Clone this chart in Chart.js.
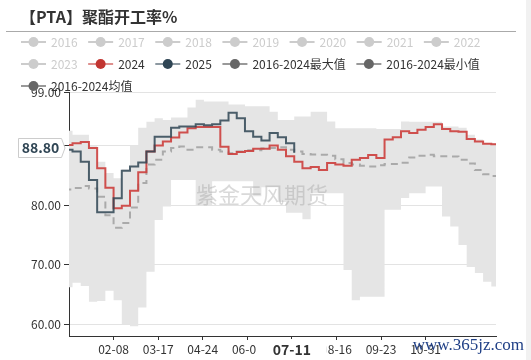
<!DOCTYPE html>
<html>
<head>
<meta charset="utf-8">
<script src="https://cdn.jsdelivr.net/npm/chart.js@4"></script>
<style>
html,body{margin:0;padding:0;background:#fff;}
#wrap{position:relative;width:531px;height:360px;overflow:hidden;}
</style>
</head>
<body>
<div id="wrap"><canvas id="c" width="531" height="360"></canvas></div>
<script>
// ---- data ----
const titleText = '【PTA】聚酯开工率%';
// weekly category positions (day index within the year axis)
const weekDays = [-4,3,10,17,24,31,38,45,52,59,66,73,80,87,94,101,108,115,122,129,136,143,150,157,164,171,178,185,192,199,206,213,220,227,234,241,248,255,262,269,276,283,290,297,304,311,318,325,332,339,346,353,360,367];
const xTickDays = [38,76,114,152,190,228,266,304];
const xTickLabels = ['02-08','03-17','04-24','06-01','07-11','08-16','09-23','10-31'];
const yTickValues = [60,70,80,90,99];
const legendNames = ['2016','2017','2018','2019','2020','2021','2022','2023','2024','2025','2016-2024最大值','2016-2024最小值','2016-2024均值'];
const legendOff = ['2016','2017','2018','2019','2020','2021','2022','2023'];

const s2024 = [90.1,90.4,90.6,89.6,86.2,82.9,79.45,79.9,82.4,85.5,89.0,90.0,90.7,91.36,92.2,92.9,93.1,93.1,93.1,89.8,88.6,88.9,89.1,89.45,89.45,90.0,89.3,88.2,87.3,86.2,86.4,85.9,87.05,86.8,86.6,87.6,87.9,88.4,87.9,91.0,91.4,92.4,92.1,92.65,93.1,93.6,92.8,92.4,92.3,91.1,90.7,90.3,90.2,90.2];
const s2025 = [89.3,89.0,87.3,84.2,78.8,78.8,81.15,85.75,86.5,87.15,89.0,91.5,91.5,93.0,93.2,93.2,93.6,93.4,93.6,94.2,95.5,94.6,92.4,91.5,90.85,92.1,91.4,90.4,88.8];
const sMean = [82.6,82.85,83.2,82.8,81.4,78.3,76.2,77.0,79.6,83.7,86.8,87.6,89.0,89.6,89.85,89.3,89.7,89.7,89.3,89.0,88.7,89.0,89.2,89.2,89.5,89.6,89.7,89.3,89.0,88.6,88.5,88.44,88.3,87.7,87.05,86.8,86.6,86.5,86.7,86.9,86.9,87.1,88.0,88.3,88.44,88.2,88.2,88.16,87.6,87.0,85.9,85.2,84.9,84.9];
const sMax = [92.5,91.8,91.8,89.9,87.3,85.4,84.5,86.0,90.0,93.0,94.0,94.6,94.3,94.7,94.7,96.4,97.7,97.4,97.4,97.4,96.9,96.9,96.6,96.6,96.6,95.7,94.3,94.3,94.9,94.9,95.7,95.7,94.05,92.9,92.9,92.9,92.9,92.9,92.8,92.8,92.8,94.05,94.0,94.0,94.0,94.0,93.2,93.2,93.0,91.8,91.0,90.4,90.4,90.4];
const sMin = [66.2,66.95,66.4,63.75,63.9,65.6,64.0,60.0,59.65,62.8,68.8,77.5,79.75,84.2,84.2,84.2,80.0,80.0,84.0,84.0,84.0,84.0,84.0,81.5,83.0,83.0,80.5,78.7,78.7,77.6,82.0,82.0,82.0,82.0,69.1,64.0,64.6,64.6,64.6,79.2,79.2,81.2,82.0,82.0,83.1,83.1,78.1,76.4,73.3,69.6,68.6,67.1,66.3,66.3];
const pointerX = '07-11';
const pointerY = '88.80';

function pts(vals){ return vals.map((v,i)=>({x:weekDays[i], y:v})); }

const FONT = '"Noto Sans CJK SC","Microsoft YaHei",sans-serif';

const overlay = {
  id:'overlay',
  afterDraw(chart){
    const ctx = chart.ctx;
    ctx.save();
    // right strip
    ctx.fillStyle = '#f1f1f1';
    ctx.fillRect(526,0,5,360);
    // title
    ctx.fillStyle = '#333';
    ctx.font = 'bold 16px ' + FONT;
    ctx.textBaseline = 'middle';
    ctx.textAlign = 'left';
    ctx.fillText(titleText, 20, 17);
    ctx.strokeStyle = '#aaa';
    ctx.lineWidth = 1;
    ctx.beginPath(); ctx.moveTo(6,31.5); ctx.lineTo(516,31.5); ctx.stroke();
    // watermark
    ctx.font = '22px ' + FONT;
    ctx.fillStyle = 'rgba(160,160,160,0.4)';
    ctx.textAlign = 'center';
    ctx.fillText('紫金天风期货', 262, 195);
    // legend
    ctx.font = '12px ' + FONT;
    ctx.textAlign = 'left';
    let x = 21, y = 42;
    const rowH = 22;
    const colors = {
      '2024':['rgba(194,53,49,0.55)','#c23531'],
      '2025':['rgba(47,69,84,0.55)','#2f4554'],
      '2016-2024最大值':['#999','#666'],
      '2016-2024最小值':['#999','#666'],
      '2016-2024均值':['#999','#666']
    };
    legendNames.forEach(name=>{
      const tw = ctx.measureText(name).width;
      const w = 25 + 5 + tw;
      if (x + w > 505) { x = 21; y += rowH; }
      const off = legendOff.includes(name);
      const c = off ? ['#ccc','#ccc'] : colors[name];
      ctx.strokeStyle = c[0]; ctx.lineWidth = 2;
      ctx.beginPath(); ctx.moveTo(x, y); ctx.lineTo(x+25, y); ctx.stroke();
      ctx.fillStyle = c[1];
      ctx.beginPath(); ctx.arc(x+12.5, y, 5, 0, Math.PI*2); ctx.fill();
      ctx.fillStyle = off ? '#ccc' : '#333';
      ctx.fillText(name, x+30, y);
      x += w + 10.5;
    });
    // y pointer label
    ctx.fillStyle = '#fff';
    ctx.strokeStyle = '#ccc';
    ctx.lineWidth = 1;
    ctx.beginPath();
    ctx.moveTo(18.5,138.5); ctx.lineTo(61.5,138.5); ctx.lineTo(65,148); ctx.lineTo(61.5,157.5); ctx.lineTo(18.5,157.5); ctx.closePath();
    ctx.fill(); ctx.stroke();
    ctx.fillStyle = '#2f4554';
    ctx.font = 'bold 14px ' + FONT;
    ctx.textAlign = 'center';
    ctx.fillText(pointerY, 40.5, 148);
    // x pointer label
    const px = chart.scales.x.getPixelForValue(190);
    ctx.fillStyle = '#fff';
    ctx.fillRect(px-35, 339, 70, 20);
    ctx.fillStyle = '#333';
    ctx.fillText(pointerX, px, 350);
    // site watermark
    ctx.font = '17px "Liberation Serif","DejaVu Serif",serif';
    ctx.fillStyle = '#1f3f86';
    ctx.textAlign = 'right';
    ctx.fillText('www.365jz.com', 524, 346);
    ctx.restore();
  }
};

new Chart(document.getElementById('c'), {
  type:'line',
  data:{
    datasets:[
      {label:'2025', data:pts(s2025), borderColor:'rgba(47,69,84,0.85)', borderWidth:2, pointRadius:0, stepped:'before', fill:false},
      {label:'2024', data:pts(s2024), borderColor:'rgba(204,62,60,0.9)', borderWidth:2, pointRadius:0, stepped:'before', fill:false},
      {label:'2016-2024均值', data:pts(sMean), borderColor:'#aaa', borderWidth:2, borderDash:[7,5], pointRadius:0, stepped:'before', fill:false},
      {label:'2016-2024最大值', data:pts(sMax), borderColor:'rgba(0,0,0,0)', borderWidth:0, pointRadius:0, stepped:'before', fill:'+1', backgroundColor:'#e5e5e5'},
      {label:'2016-2024最小值', data:pts(sMin), borderColor:'rgba(0,0,0,0)', borderWidth:0, pointRadius:0, stepped:'before', fill:false}
    ]
  },
  options:{
    responsive:false,
    animation:false,
    devicePixelRatio:1,
    layout:{padding:{top:92,right:35,left:0,bottom:0}},
    plugins:{legend:{display:false}, tooltip:{enabled:false}},
    scales:{
      x:{
        type:'linear', min:0, max:364,
        afterBuildTicks(s){ s.ticks = xTickDays.map(v=>({value:v})); },
        afterFit(s){ s.height = 24; },
        ticks:{ callback:(v)=>{ const i = xTickDays.indexOf(v); return i>=0?xTickLabels[i]:''; }, color:'#333', font:{size:12, family:FONT}, padding:2, maxRotation:0, autoSkip:false },
        grid:{ drawOnChartArea:false, tickLength:4, tickColor:'#333' },
        border:{ color:'#333', width:1 }
      },
      y:{
        type:'linear', min:58, max:99,
        afterBuildTicks(s){ s.ticks = yTickValues.map(v=>({value:v})); },
        afterFit(s){ s.width = 69; },
        ticks:{ callback:(v)=>Number(v).toFixed(2), color:'#333', font:{size:12, family:FONT}, padding:3 },
        grid:{ color:'#e3e3e3', tickLength:5, tickColor:'#333' },
        border:{ color:'#333', width:1 }
      }
    }
  },
  plugins:[overlay]
});
</script>
</body>
</html>
